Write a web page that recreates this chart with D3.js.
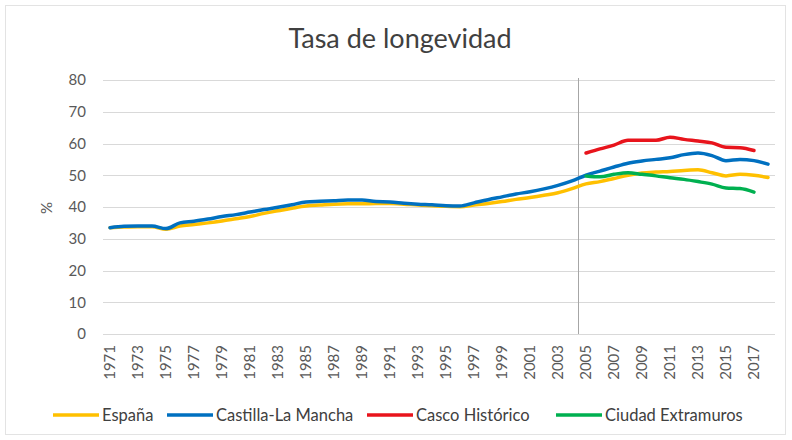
<!DOCTYPE html>
<html lang="es">
  <head>
    <meta charset="UTF-8" />
    <title>Tasa de longevidad</title>
    <script src="https://d3js.org/d3.v7.min.js"></script>
    <style>
      body {
        margin: 0;
        background: #fff;
        font-family: Lato, "Open Sans", sans-serif;
      }
      .grid line {
        stroke: #d9d9d9;
        stroke-width: 1px;
      }
      .ticks text {
        fill: #595959;
        font-size: 15px;
      }
      .serie {
        fill: none;
        stroke-width: 3.5px;
        stroke-linejoin: round;
        stroke-linecap: round;
      }
      .legend text {
        fill: #404040;
        font-size: 16.5px;
      }
    </style>
  </head>
  <body>
    <svg width="792" height="440"></svg>

    <script>
      // Años (categorías del eje X)
      const years = d3.range(1971, 2019);
      const yearsBarrios = d3.range(2005, 2018);

      // Valores (%)
      const espana = [
        33.5, 33.7, 33.8, 33.8, 33.0, 34.0, 34.5, 35.0, 35.6, 36.3,
        37.0, 38.0, 38.8, 39.6, 40.3, 40.6, 40.9, 41.0, 41.0, 41.1,
        41.1, 40.9, 40.6, 40.4, 40.2, 40.1, 40.6, 41.1, 41.7, 42.4,
        43.0, 43.7, 44.5, 45.8, 47.3, 48.0, 49.0, 50.0, 50.7, 51.0,
        51.2, 51.5, 51.7, 50.8, 49.8, 50.3, 50.0, 49.3,
      ];
      const castilla = [
        33.5, 33.9, 34.0, 34.0, 33.2, 35.0, 35.5, 36.2, 37.0, 37.6,
        38.4, 39.2, 39.9, 40.7, 41.6, 41.8, 42.0, 42.2, 42.2, 41.7,
        41.6, 41.2, 40.9, 40.7, 40.4, 40.3, 41.3, 42.3, 43.2, 44.1,
        44.8, 45.7, 46.8, 48.2, 50.0, 51.3, 52.6, 53.8, 54.5, 55.0,
        55.5, 56.5, 57.0, 56.2, 54.6, 55.0, 54.6, 53.5,
      ];
      const cascoHistorico = [
        57.0, 58.3, 59.5, 61.0, 61.0, 61.0, 62.0, 61.3, 60.8, 60.2,
        58.8, 58.7, 57.8,
      ];
      const ciudadExtramuros = [
        49.8, 49.5, 50.3, 50.8, 50.3, 49.8, 49.2, 48.7, 48.0, 47.2,
        46.0, 45.8, 44.7,
      ];

      const yTicks = [0, 10, 20, 30, 40, 50, 60, 70, 80];
      const xTickYears = years.filter((y) => (y - 1971) % 2 === 0);

      const series = [
        { name: "España", color: "#ffc000", years: years, values: espana },
        { name: "Castilla-La Mancha", color: "#0070c0", years: years, values: castilla },
        { name: "Casco Histórico", color: "#e8141c", years: yearsBarrios, values: cascoHistorico },
        { name: "Ciudad Extramuros", color: "#00b050", years: yearsBarrios, values: ciudadExtramuros },
      ];

      const svg = d3.select("svg");

      // marco del gráfico
      svg
        .append("rect")
        .attr("x", 5.5)
        .attr("y", 5.5)
        .attr("width", 780)
        .attr("height", 429)
        .attr("fill", "#fff")
        .attr("stroke", "#e3e3e3");

      const x = d3.scaleBand().domain(years).range([103, 775]);
      const y = d3.scaleLinear().domain([0, 80]).range([334, 80]);
      const cx = (yr) => x(yr) + x.bandwidth() / 2;

      // líneas de cuadrícula
      svg
        .append("g")
        .attr("class", "grid")
        .selectAll("line")
        .data(yTicks)
        .enter()
        .append("line")
        .attr("x1", 103)
        .attr("x2", 775)
        .attr("y1", (d) => Math.round(y(d)) + 0.5)
        .attr("y2", (d) => Math.round(y(d)) + 0.5);

      // etiquetas eje Y
      svg
        .append("g")
        .attr("class", "ticks")
        .selectAll("text")
        .data(yTicks)
        .enter()
        .append("text")
        .attr("x", 86)
        .attr("y", (d) => y(d))
        .attr("dy", "0.35em")
        .attr("text-anchor", "end")
        .text((d) => d);

      svg
        .append("text")
        .attr("transform", "translate(52,208) rotate(-90)")
        .attr("text-anchor", "middle")
        .attr("fill", "#595959")
        .style("font-size", "15px")
        .text("%");

      // etiquetas eje X (rotadas)
      svg
        .append("g")
        .attr("class", "ticks")
        .selectAll("text")
        .data(xTickYears)
        .enter()
        .append("text")
        .attr("transform", (d) => `translate(${cx(d) + 5},345) rotate(-90)`)
        .attr("text-anchor", "end")
        .style("font-size", "15px")
        .text((d) => d);

      // línea vertical en 2005
      const x2005 = Math.round(x(2005)) - 0.5;
      svg
        .append("line")
        .attr("x1", x2005)
        .attr("x2", x2005)
        .attr("y1", y(80) - 2)
        .attr("y2", y(0))
        .attr("stroke", "#a6a6a6")
        .attr("stroke-width", 1);

      // series
      const line = d3
        .line()
        .x((d) => cx(d[0]))
        .y((d) => y(d[1]))
        .curve(d3.curveMonotoneX);

      svg
        .append("g")
        .selectAll("path")
        .data(series)
        .enter()
        .append("path")
        .attr("class", "serie")
        .attr("stroke", (d) => d.color)
        .attr("d", (d) => line(d.years.map((yr, i) => [yr, d.values[i]])));

      // título
      svg
        .append("text")
        .attr("x", 400)
        .attr("y", 48)
        .attr("text-anchor", "middle")
        .attr("fill", "#404040")
        .style("font-size", "27px")
        .text("Tasa de longevidad");

      // leyenda
      const legendX = [53, 167, 367, 556];
      const legend = svg
        .append("g")
        .attr("class", "legend")
        .selectAll("g")
        .data(series)
        .enter()
        .append("g")
        .attr("transform", (d, i) => `translate(${legendX[i]},415)`);

      legend
        .append("line")
        .attr("x1", 0)
        .attr("x2", 46)
        .attr("stroke", (d) => d.color)
        .attr("stroke-width", 3.5);

      legend
        .append("text")
        .attr("x", 49)
        .attr("dy", "0.35em")
        .text((d) => d.name);
    </script>
  </body>
</html>
